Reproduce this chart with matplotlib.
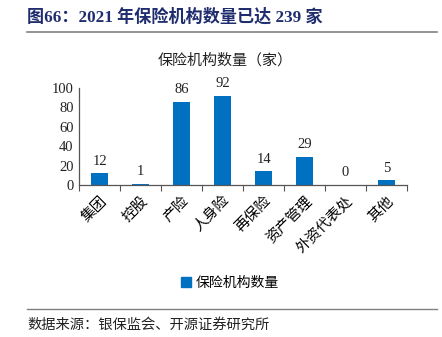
import matplotlib
matplotlib.use("Agg")
import matplotlib.pyplot as plt
from matplotlib.lines import Line2D
from matplotlib.patches import Patch

plt.rcParams['font.family'] = ['Liberation Serif', 'Noto Sans CJK SC', 'DejaVu Sans']

categories = ['集团', '控股', '产险', '人身险', '再保险', '资产管理', '外资代表处', '其他']
values = [12, 1, 86, 92, 14, 29, 0, 5]
yticks = [0, 20, 40, 60, 80, 100]

bar_color = '#0070C0'
title_color = '#1F2D6E'

fig = plt.figure(figsize=(4.42, 3.37), dpi=100)
ax = fig.add_axes([0.179, 0.451, 0.742, 0.288])

x = list(range(len(categories)))
bars = ax.bar(x, values, width=0.4, color=bar_color, zorder=2)
for xi, v in zip(x, values):
    ax.annotate(f'{v}', (xi, v), xytext=(0, 4), textcoords='offset points',
                ha='center', va='bottom', fontsize=10.5, color='#222222')

ax.set_xlim(-0.5, len(categories) - 0.5)
ax.set_ylim(0, 100)
ax.set_yticks(yticks)
ax.tick_params(axis='y', length=0, labelsize=10.5, pad=4, colors='#222222')
ax.set_xticks([i - 0.5 for i in range(len(categories) + 1)], minor=False)
ax.set_xticklabels([])
ax.tick_params(axis='x', which='major', direction='out', length=4, color='#555555')
ax.set_xticks(x, minor=True)
ax.set_xticklabels(categories, minor=True, rotation=45, ha='right', va='top',
                   rotation_mode='anchor', fontsize=10.5,
                   family=['Noto Sans CJK SC'])
ax.tick_params(axis='x', which='minor', length=0, pad=6)
for s in ['top', 'right']:
    ax.spines[s].set_visible(False)
for s in ['left', 'bottom']:
    ax.spines[s].set_color('#555555')
    ax.spines[s].set_linewidth(0.9)

# header and footer
fig.text(0.062, 1 - 17 / 337, '图66：2021 年保险机构数量已达 239 家', fontsize=12.3,
         fontweight='bold', color=title_color, va='center', ha='left',
         family=['Liberation Serif', 'Noto Sans CJK SC'])
fig.add_artist(Line2D([27 / 442, 437 / 442], [1 - 32 / 337] * 2, color='#808080', lw=1.2))
fig.text(225 / 442, 1 - 60 / 337, '保险机构数量（家）', fontsize=10.8, ha='center', va='center',
         family=['Noto Sans CJK SC'], color='#222222')

fig.legend(handles=[Patch(color=bar_color, label='保险机构数量')], loc='center',
           bbox_to_anchor=(230 / 442, 1 - 283 / 337), frameon=False,
           prop={'family': 'Noto Sans CJK SC', 'size': 10},
           handlelength=0.7, handleheight=0.7, handletextpad=0.3)

fig.add_artist(Line2D([27 / 442, 437 / 442], [1 - 309 / 337] * 2, color='#808080', lw=1.0))
fig.text(27 / 442, 1 - 325 / 337, '数据来源：银保监会、开源证券研究所', fontsize=10.3,
         ha='left', va='center', family=['Noto Sans CJK SC'], color='#222222')

fig.savefig('out.png', dpi=100)
